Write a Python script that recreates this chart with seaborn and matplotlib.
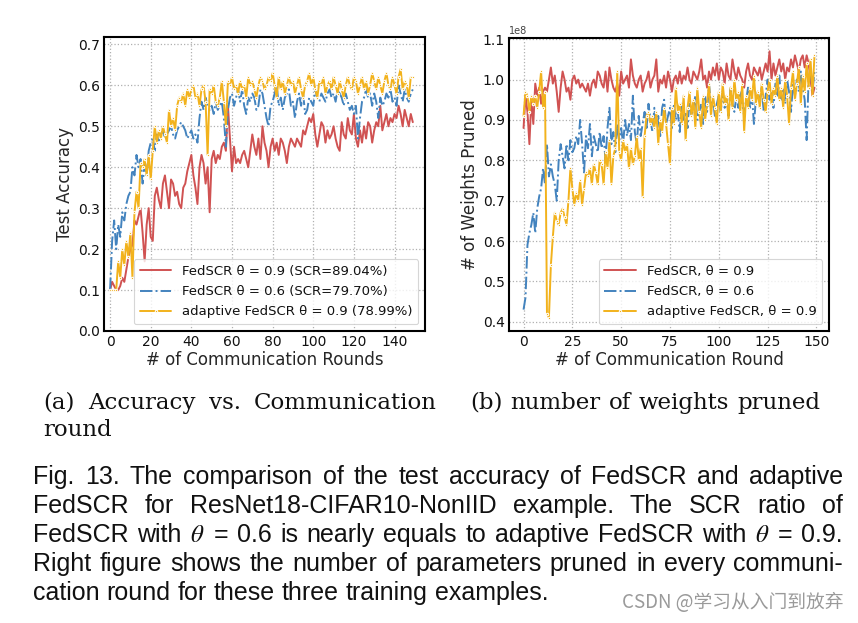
import numpy as np
import pandas as pd
import matplotlib
matplotlib.use("Agg")
import matplotlib.pyplot as plt
import seaborn as sns

rounds = list(range(150))

acc_fedscr_09 = [
    0.10, 0.12, 0.11, 0.10, 0.10, 0.11, 0.13, 0.12, 0.15, 0.18,
    0.20, 0.21, 0.27, 0.26, 0.28, 0.30, 0.24, 0.17, 0.26, 0.30,
    0.23, 0.22, 0.33, 0.35, 0.32, 0.30, 0.36, 0.38, 0.34, 0.30,
    0.37, 0.36, 0.33, 0.34, 0.31, 0.30, 0.35, 0.36, 0.39, 0.41,
    0.43, 0.38, 0.35, 0.31, 0.40, 0.43, 0.41, 0.36, 0.40, 0.29,
    0.42, 0.44, 0.41, 0.43, 0.42, 0.45, 0.46, 0.44, 0.55, 0.47,
    0.39, 0.45, 0.41, 0.42, 0.41, 0.43, 0.44, 0.42, 0.40, 0.44,
    0.48, 0.45, 0.43, 0.47, 0.42, 0.50, 0.46, 0.44, 0.40, 0.45,
    0.47, 0.44, 0.46, 0.43, 0.47, 0.46, 0.44, 0.41, 0.45, 0.47,
    0.46, 0.45, 0.47, 0.46, 0.45, 0.49, 0.48, 0.50, 0.52, 0.51,
    0.53, 0.48, 0.45, 0.48, 0.51, 0.50, 0.46, 0.49, 0.47, 0.48,
    0.50, 0.47, 0.45, 0.44, 0.51, 0.48, 0.47, 0.52, 0.49, 0.48,
    0.53, 0.47, 0.45, 0.49, 0.46, 0.50, 0.47, 0.51, 0.50, 0.46,
    0.49, 0.51, 0.50, 0.55, 0.49, 0.51, 0.53, 0.50, 0.52, 0.51,
    0.53, 0.52, 0.55, 0.53, 0.50, 0.54, 0.52, 0.50, 0.53, 0.51,
]

acc_fedscr_06 = [
    0.10, 0.22, 0.27, 0.20, 0.26, 0.23, 0.29, 0.27, 0.31, 0.33,
    0.34, 0.40, 0.38, 0.43, 0.40, 0.42, 0.36, 0.41, 0.38, 0.44,
    0.46, 0.47, 0.44, 0.48, 0.46, 0.48, 0.49, 0.47, 0.48, 0.49,
    0.50, 0.48, 0.47, 0.49, 0.50, 0.51, 0.50, 0.49, 0.47, 0.48,
    0.49, 0.47, 0.48, 0.46, 0.52, 0.56, 0.54, 0.57, 0.55, 0.54,
    0.55, 0.53, 0.56, 0.54, 0.55, 0.56, 0.52, 0.45, 0.54, 0.57,
    0.58, 0.55, 0.57, 0.59, 0.56, 0.59, 0.55, 0.53, 0.57, 0.56,
    0.58, 0.57, 0.54, 0.55, 0.59, 0.58, 0.55, 0.52, 0.50, 0.55,
    0.56, 0.58, 0.60, 0.55, 0.57, 0.54, 0.57, 0.58, 0.59, 0.55,
    0.56, 0.52, 0.56, 0.58, 0.55, 0.58, 0.53, 0.54, 0.57, 0.56,
    0.55, 0.59, 0.57, 0.56, 0.58, 0.57, 0.56, 0.58, 0.59, 0.57,
    0.58, 0.56, 0.59, 0.58, 0.57, 0.55, 0.58, 0.56, 0.54, 0.55,
    0.53, 0.55, 0.47, 0.52, 0.56, 0.57, 0.59, 0.57, 0.58, 0.55,
    0.58, 0.56, 0.52, 0.57, 0.55, 0.56, 0.58, 0.57, 0.59, 0.56,
    0.57, 0.55, 0.60, 0.58, 0.56, 0.59, 0.57, 0.56, 0.58, 0.59,
]

acc_adaptive_09 = [
    0.10, 0.10, 0.10, 0.10, 0.17, 0.13, 0.20, 0.16, 0.22, 0.18,
    0.24, 0.13, 0.29, 0.34, 0.30, 0.41, 0.40, 0.42, 0.38, 0.43,
    0.37, 0.44, 0.50, 0.46, 0.49, 0.47, 0.50, 0.48, 0.46, 0.54,
    0.50, 0.52, 0.49, 0.55, 0.57, 0.56, 0.58, 0.55, 0.59, 0.57,
    0.59, 0.60, 0.57, 0.58, 0.55, 0.59, 0.60, 0.56, 0.43, 0.59,
    0.58, 0.60, 0.56, 0.55, 0.57, 0.61, 0.56, 0.50, 0.61, 0.60,
    0.62, 0.59, 0.60, 0.58, 0.61, 0.59, 0.60, 0.57, 0.62, 0.60,
    0.61, 0.59, 0.57, 0.60, 0.62, 0.61, 0.59, 0.60, 0.62, 0.61,
    0.63, 0.60, 0.57, 0.62, 0.59, 0.61, 0.58, 0.60, 0.62, 0.60,
    0.61, 0.58, 0.60, 0.62, 0.59, 0.57, 0.60, 0.61, 0.63, 0.60,
    0.62, 0.59, 0.57, 0.61, 0.60, 0.62, 0.58, 0.60, 0.61, 0.59,
    0.62, 0.60, 0.58, 0.61, 0.59, 0.57, 0.60, 0.62, 0.60, 0.59,
    0.62, 0.61, 0.58, 0.60, 0.62, 0.59, 0.61, 0.58, 0.60, 0.63,
    0.61, 0.59, 0.62, 0.60, 0.58, 0.61, 0.63, 0.60, 0.59, 0.62,
    0.60, 0.58, 0.62, 0.64, 0.59, 0.61, 0.60, 0.57, 0.62, 0.62,
]

# number of weights pruned, in units of 1e8
WEIGHT_UNIT = 1e8
pruned_fedscr_09 = [
    0.88, 0.96, 0.92, 0.84, 0.95, 0.89, 0.99, 0.96, 0.98, 0.94,
    0.97, 0.98, 0.97, 1.00, 1.03, 0.99, 1.01, 0.97, 0.92, 0.98,
    1.02, 1.00, 0.97, 0.98, 0.95, 1.00, 1.01, 0.99, 1.00, 0.98,
    0.99, 0.98, 0.97, 0.99, 0.96, 0.99, 1.00, 0.98, 1.02, 1.01,
    0.99, 0.98, 1.02, 0.97, 1.03, 1.00, 0.98, 0.97, 0.99, 0.96,
    1.02, 0.99, 1.00, 1.01, 0.98, 1.05, 1.01, 0.99, 0.98, 1.00,
    1.01, 0.97, 0.99, 1.00, 1.02, 0.98, 1.00, 1.01, 1.05, 0.97,
    1.00, 0.99, 1.01, 0.98, 1.02, 1.00, 0.97, 1.00, 1.01, 0.99,
    1.02, 0.99, 1.01, 1.00, 1.03, 1.00, 0.99, 1.02, 1.01, 1.00,
    1.02, 1.05, 1.00, 1.01, 0.98, 1.02, 1.00, 1.03, 1.01, 1.04,
    1.00, 1.03, 1.02, 0.99, 1.04, 1.01, 1.00, 1.05, 1.02, 1.00,
    1.03, 1.01, 1.00, 0.98, 1.02, 1.04, 1.01, 1.00, 1.03, 1.02,
    1.01, 1.03, 1.00, 1.02, 1.04, 1.02, 1.07, 1.00, 1.04, 1.01,
    1.03, 1.05, 1.02, 1.04, 1.00, 1.03, 1.02, 1.05, 1.03, 1.06,
    1.04, 1.02, 1.05, 1.06, 1.03, 1.06, 1.04, 1.00, 0.96, 0.98,
]

pruned_fedscr_06 = [
    0.43, 0.46, 0.59, 0.62, 0.64, 0.67, 0.62, 0.68, 0.71, 0.73,
    0.78, 0.74, 0.84, 0.76, 0.79, 0.76, 0.74, 0.70, 0.80, 0.84,
    0.81, 0.78, 0.84, 0.80, 0.85, 0.82, 0.83, 0.86, 0.84, 0.90,
    0.84, 0.77, 0.86, 0.83, 0.89, 0.81, 0.86, 0.84, 0.82, 0.87,
    0.83, 0.86, 0.80, 0.88, 0.93, 0.84, 0.87, 0.82, 0.89, 0.85,
    0.88, 0.84, 0.90, 0.86, 0.89, 0.85, 0.96, 0.87, 0.84, 0.91,
    0.86, 0.89, 0.92, 0.88, 0.94, 0.90, 0.87, 0.93, 0.89, 0.91,
    0.86, 0.93, 0.95, 0.89, 0.91, 0.93, 0.88, 0.94, 0.90, 0.92,
    0.87, 0.94, 0.90, 0.92, 0.88, 0.95, 0.91, 0.93, 0.96, 0.90,
    0.92, 0.94, 0.89, 0.96, 0.92, 0.99, 0.93, 0.95, 0.91, 0.94,
    0.96, 0.92, 0.97, 0.93, 0.95, 0.91, 0.98, 0.94, 0.92, 0.96,
    0.93, 0.97, 0.94, 0.91, 0.95, 0.98, 0.93, 0.96, 0.89, 0.95,
    0.97, 0.94, 0.98, 0.92, 0.96, 1.00, 0.95, 0.97, 0.93, 0.99,
    0.96, 1.01, 0.95, 0.98, 0.94, 1.00, 0.97, 0.92, 0.99, 0.96,
    1.00, 0.97, 1.02, 0.98, 0.95, 0.85, 1.00, 1.03, 0.97, 1.02,
]

pruned_adaptive_09 = [
    0.91, 0.97, 0.96, 0.92, 0.96, 0.94, 0.96, 0.93, 0.97, 1.02,
    0.93, 0.97, 0.42, 0.41, 0.54, 0.61, 0.67, 0.65, 0.64, 0.67,
    0.68, 0.66, 0.64, 0.70, 0.78, 0.73, 0.69, 0.72, 0.70, 0.75,
    0.69, 0.73, 0.77, 0.76, 0.78, 0.74, 0.79, 0.77, 0.74, 0.80,
    0.79, 0.74, 0.82, 0.78, 0.85, 0.74, 0.81, 0.83, 1.02, 0.82,
    0.80, 0.85, 0.82, 0.84, 0.78, 0.83, 0.79, 0.81, 0.86, 0.80,
    0.83, 0.71, 0.86, 0.91, 0.92, 0.89, 0.91, 0.88, 0.92, 0.84,
    0.90, 0.87, 0.93, 0.89, 0.84, 0.79, 0.93, 0.89, 0.98, 0.92,
    0.94, 0.89, 0.96, 0.85, 0.93, 0.97, 0.91, 0.95, 0.88, 0.98,
    0.92, 0.88, 0.96, 0.90, 0.94, 0.99, 0.91, 0.96, 0.93, 0.89,
    0.97, 0.92, 0.99, 0.94, 0.96, 0.90, 0.98, 0.93, 1.00, 0.95,
    0.97, 0.92, 0.99, 0.87, 0.96, 0.93, 0.98, 0.95, 1.01, 0.94,
    0.97, 0.93, 0.99, 0.95, 0.92, 0.97, 1.00, 0.94, 0.98, 0.96,
    1.01, 0.95, 0.98, 0.93, 1.00, 0.96, 0.89, 0.98, 1.02, 0.95,
    0.99, 1.03, 0.94, 1.01, 0.97, 1.04, 0.98, 1.05, 0.96, 1.06,
]

left_labels = ["FedSCR θ = 0.9 (SCR=89.04%)",
               "FedSCR θ = 0.6 (SCR=79.70%)",
               "adaptive FedSCR θ = 0.9 (78.99%)"]
right_labels = ["FedSCR, θ = 0.9",
                "FedSCR, θ = 0.6",
                "adaptive FedSCR, θ = 0.9"]

subcap_a = ["(a) Accuracy vs. Communication", "round"]
subcap_b = "(b) number of weights pruned"
caption_lines = [
    "Fig. 13. The comparison of the test accuracy of FedSCR and adaptive",
    "FedSCR for ResNet18-CIFAR10-NonIID example. The SCR ratio of",
    "FedSCR with $\\theta$ = 0.6 is nearly equals to adaptive FedSCR with $\\theta$ = 0.9.",
    "Right figure shows the number of parameters pruned in every communi-",
    "cation round for these three training examples.",
]
watermark = "CSDN @学习从入门到放弃"

# ---------------- styling ----------------
sns.set_theme(style="white")
plt.rcParams["font.family"] = ["DejaVu Sans"]
plt.rcParams["mathtext.fontset"] = "stix"

RED = "#d05252"
BLUE = "#4383be"
GOLD = "#f2b21c"
styles = [dict(color=RED, linestyle="-", marker=None),
          dict(color=BLUE, linestyle="-.", marker=None),
          dict(color=GOLD, linestyle="-", marker=".", markersize=3.5)]

W, H = 858, 623
fig = plt.figure(figsize=(W / 100, H / 100), dpi=100)
fig.patch.set_facecolor("white")


def px_axes(x0, y0, x1, y1):
    return fig.add_axes([x0 / W, 1 - y1 / H, (x1 - x0) / W, (y1 - y0) / H])


axL = px_axes(104, 37, 425, 331)
axR = px_axes(509, 38, 829, 331)

dfL = pd.DataFrame({"round": rounds, "a09": acc_fedscr_09,
                    "a06": acc_fedscr_06, "ad": acc_adaptive_09})
dfR = pd.DataFrame({"round": rounds,
                    "p09": np.array(pruned_fedscr_09) * WEIGHT_UNIT,
                    "p06": np.array(pruned_fedscr_06) * WEIGHT_UNIT,
                    "pd": np.array(pruned_adaptive_09) * WEIGHT_UNIT})

for col, lab, st in zip(["a09", "a06", "ad"], left_labels, styles):
    sns.lineplot(data=dfL, x="round", y=col, ax=axL, label=lab,
                 linewidth=1.4, **st)
for col, lab, st in zip(["p09", "p06", "pd"], right_labels, styles):
    sns.lineplot(data=dfR, x="round", y=col, ax=axR, label=lab,
                 linewidth=1.4, **st)

ticksL = [0.0, 0.1, 0.2, 0.3, 0.4, 0.5, 0.6, 0.7]
axL.set_xlim(-3, 155)
axL.set_ylim(0.0, 0.718)
axL.set_xticks([0, 20, 40, 60, 80, 100, 120, 140])
axL.set_yticks(ticksL)
axL.set_yticklabels([f"{v:.1f}" for v in ticksL])
axL.set_xlabel("# of Communication Rounds", fontsize=12, labelpad=1)
axL.set_ylabel("Test Accuracy", fontsize=12, labelpad=3)

axR.set_xticks([0, 25, 50, 75, 100, 125, 150])
axR.set_xlabel("# of Communication Round", fontsize=12, labelpad=1)
axR.set_ylabel("# of Weights Pruned", fontsize=12, labelpad=3)

for ax in (axL, axR):
    ax.grid(True, linestyle=":", color="#b0b0b0", linewidth=0.9)
    ax.tick_params(direction="in", length=3, width=0.8, labelsize=10,
                   colors="#111111", pad=3)
    for sp in ax.spines.values():
        sp.set_color("black")
        sp.set_linewidth(1.5)
    leg = ax.legend(loc="lower right", fontsize=9.5, frameon=True,
                    borderaxespad=0.5, handlelength=2.4, labelspacing=0.55,
                    borderpad=0.45)
    leg.get_frame().set_edgecolor("#cccccc")
    leg.get_frame().set_linewidth(0.8)
    for t in leg.get_texts():
        t.set_color("#111111")
axR.yaxis.get_offset_text().set_fontsize(7)
axR.yaxis.get_offset_text().set_color("#444444")

# ---------------- captions ----------------
renderer = fig.canvas.get_renderer()


def put_line(text, x0, x1, baseline, family, size, justify=True):
    words = text.split(" ")
    texts = [fig.text(0, 1 - baseline / H, w_, family=family, fontsize=size,
                      va="baseline", ha="left", color="#111111") for w_ in words]
    widths = [t.get_window_extent(renderer).width for t in texts]
    probe1 = fig.text(0, 0, "a a", family=family, fontsize=size)
    probe2 = fig.text(0, 0, "aa", family=family, fontsize=size)
    sp_w = probe1.get_window_extent(renderer).width - probe2.get_window_extent(renderer).width
    probe1.remove()
    probe2.remove()
    if justify and len(words) > 1:
        gap = (x1 - x0 - sum(widths)) / (len(words) - 1)
    else:
        gap = sp_w
    x = x0
    for t, wd in zip(texts, widths):
        t.set_x(x / W)
        x += wd + gap


serif = "DejaVu Serif"
put_line(subcap_a[0], 43, 437, 409, serif, 16.5)
put_line(subcap_a[1], 43, 437, 436, serif, 16.5, justify=False)
put_line(subcap_b, 470, 820, 409, serif, 16.5)

sans = "Liberation Sans"
baselines = [484, 513, 542, 571, 600]
for i, (line, yy) in enumerate(zip(caption_lines, baselines)):
    put_line(line, 33, 843, yy, sans, 18, justify=(i < len(caption_lines) - 1))

fig.text(843 / W, 1 - 608 / H, watermark, family=["Noto Sans CJK SC", "DejaVu Sans"],
         fontsize=13.5, ha="right", va="baseline", color="#9a9a9a")

fig.savefig("out.png", dpi=100, facecolor="white")
